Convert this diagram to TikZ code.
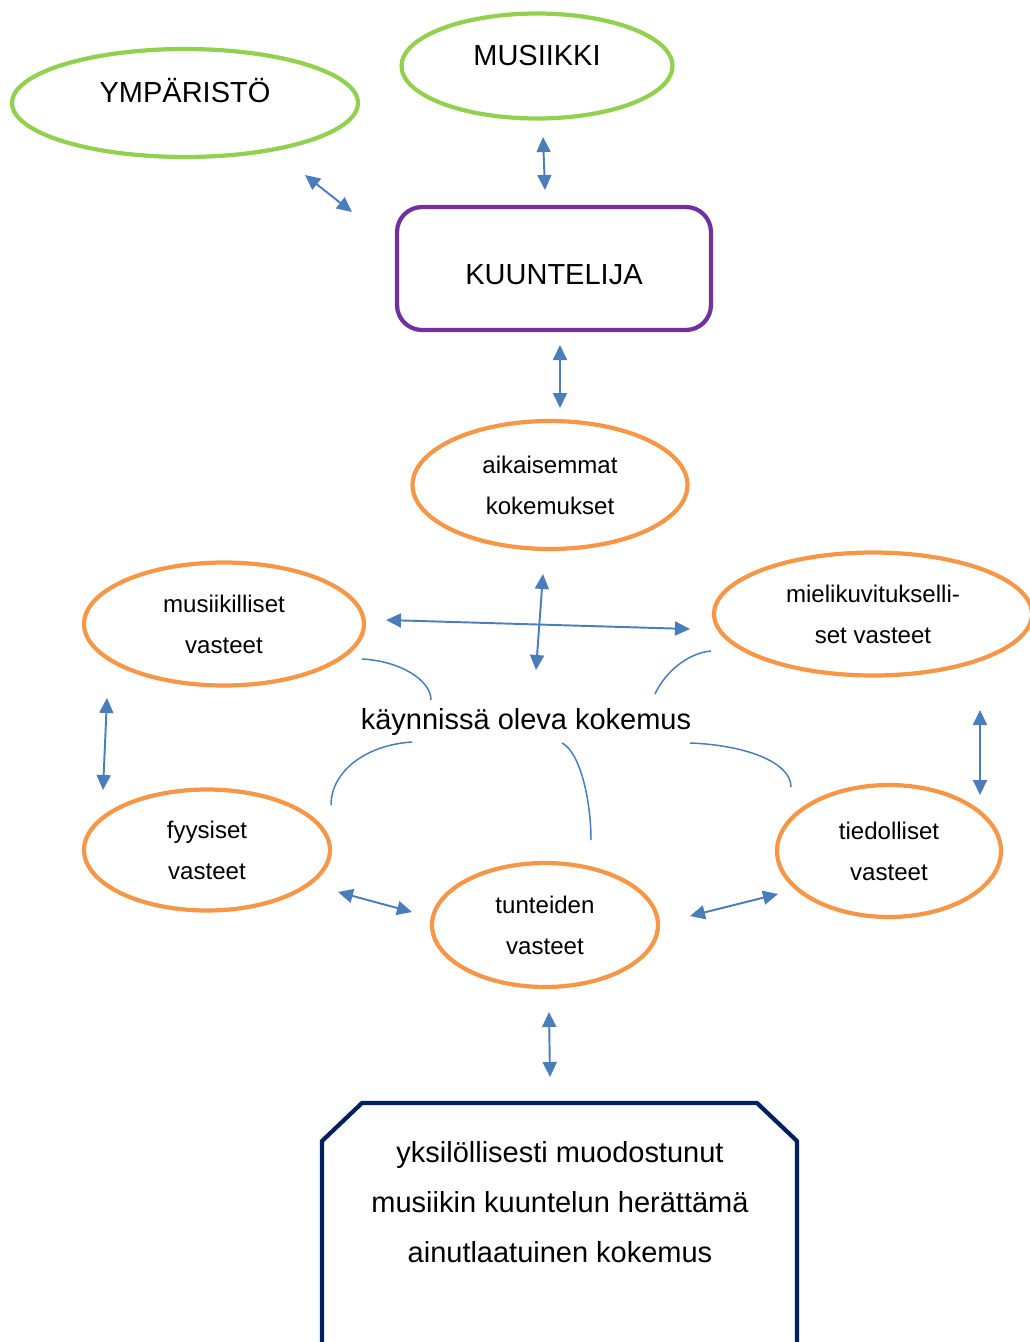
\documentclass[tikz,border=0pt]{standalone}
\usepackage{fontspec}
\setmainfont{Liberation Sans}
\usetikzlibrary{arrows.meta,shapes.geometric}
\definecolor{leaf}{HTML}{92D050}
\definecolor{plum}{HTML}{7030A0}
\definecolor{amber}{HTML}{F79646}
\definecolor{navy}{HTML}{002060}
\definecolor{steel}{HTML}{4A7EBB}
\tikzset{outer/.style={ellipse,draw=leaf,line width=2.4pt,text height=0.42cm,text depth=0.44cm,
  font=\fontsize{16.5}{20}\selectfont},
  inner/.style={ellipse,draw=amber,line width=2.4pt,align=center,
  font=\fontsize{13.7}{23.3}\selectfont},
  link/.style={{Triangle[length=0.3cm,width=0.28cm]}-{Triangle[length=0.3cm,width=0.28cm]},
  draw=steel,line width=1.1pt},
  arc/.style={draw=steel,line width=0.85pt}}

\begin{document}
\begin{tikzpicture}[x=0.02cm,y=-0.02cm]
\useasboundingbox (0,0) rectangle (1030,1342);
\node[outer,minimum width=6.92cm,minimum height=2.16cm] (ymp) at (185,103) {YMPÄRISTÖ};
\node[outer,minimum width=5.42cm,minimum height=2.1cm] (mus) at (537,66) {MUSIIKKI};
\node[draw=plum,line width=2.4pt,rounded corners=0.5cm,minimum width=6.28cm,minimum height=2.46cm,
  text height=0.62cm,text depth=0cm,font=\fontsize{16.5}{20}\selectfont] (kuu) at (554,268.5) {KUUNTELIJA};
\node[inner,minimum width=5.5cm,minimum height=2.56cm] (aik) at (550,485) {aikaisemmat\\kokemukset};
\node[inner,minimum width=5.6cm,minimum height=2.46cm] (musv) at (224,624) {musiikilliset\\vasteet};
\node[inner,minimum width=6.36cm,minimum height=2.46cm] (miel) at (873,614) {mielikuvitukselli-\\set vasteet};
\node[inner,minimum width=4.92cm,minimum height=2.42cm] (fyy) at (207,850) {fyysiset\\vasteet};
\node[inner,minimum width=4.48cm,minimum height=2.64cm] (tie) at (889,851) {tiedolliset\\vasteet};
\node[inner,minimum width=4.52cm,minimum height=2.48cm] (tun) at (545,925) {tunteiden\\vasteet};
\node[font=\fontsize{16.5}{20}\selectfont] (kay) at (526,722) {käynnissä oleva kokemus};
\node[align=center,font=\fontsize{16.5}{28.5}\selectfont] (tulos) at (560,1202)
  {yksilöllisesti muodostunut\\musiikin kuuntelun herättämä\\ainutlaatuinen kokemus};
% octagon cut off by the page
\draw[navy,line width=2.4pt] (322,1360)--(322,1141)--(362,1103)--(757,1103)--(797,1141)--(797,1360);
% arrows
\coordinate (y1) at (305,175); \coordinate (y2) at (352,212);
\coordinate (m1) at (543,137); \coordinate (m2) at (545,190);
\coordinate (k1) at (560,345); \coordinate (k2) at (560,408);
\coordinate (h1) at (386,620); \coordinate (h2) at (690,629);
\coordinate (v1) at (543,574); \coordinate (v2) at (536,670);
\coordinate (l1) at (107,698); \coordinate (l2) at (103,790);
\coordinate (r1) at (980,710); \coordinate (r2) at (980,795);
\coordinate (f1) at (338,892); \coordinate (f2) at (412,912);
\coordinate (t1) at (690,916); \coordinate (t2) at (778,894);
\coordinate (b1) at (549,1012); \coordinate (b2) at (550,1077);
\foreach \a/\b in {y1/y2,m1/m2,k1/k2,h1/h2,v1/v2,l1/l2,r1/r2,f1/f2,t1/t2,b1/b2}
  \draw[link] (\a)--(\b);
% arcs round the middle text
\coordinate (c1) at (362,659); \coordinate (c2) at (431,700);
\coordinate (c3) at (711,651); \coordinate (c4) at (655,694);
\coordinate (c5) at (412,742); \coordinate (c6) at (331,805);
\coordinate (c7) at (562,743); \coordinate (c8) at (591,840);
\coordinate (c9) at (690,743); \coordinate (c10) at (791,787);
\draw[arc] (c1) .. controls (400,661) and (431,680) .. (c2);
\draw[arc] (c3) .. controls (688,653) and (665,672) .. (c4);
\draw[arc] (c5) .. controls (365,745) and (331,772) .. (c6);
\draw[arc] (c7) .. controls (580,752) and (591,800) .. (c8);
\draw[arc] (c9) .. controls (745,745) and (791,762) .. (c10);
\end{tikzpicture}
\end{document}
